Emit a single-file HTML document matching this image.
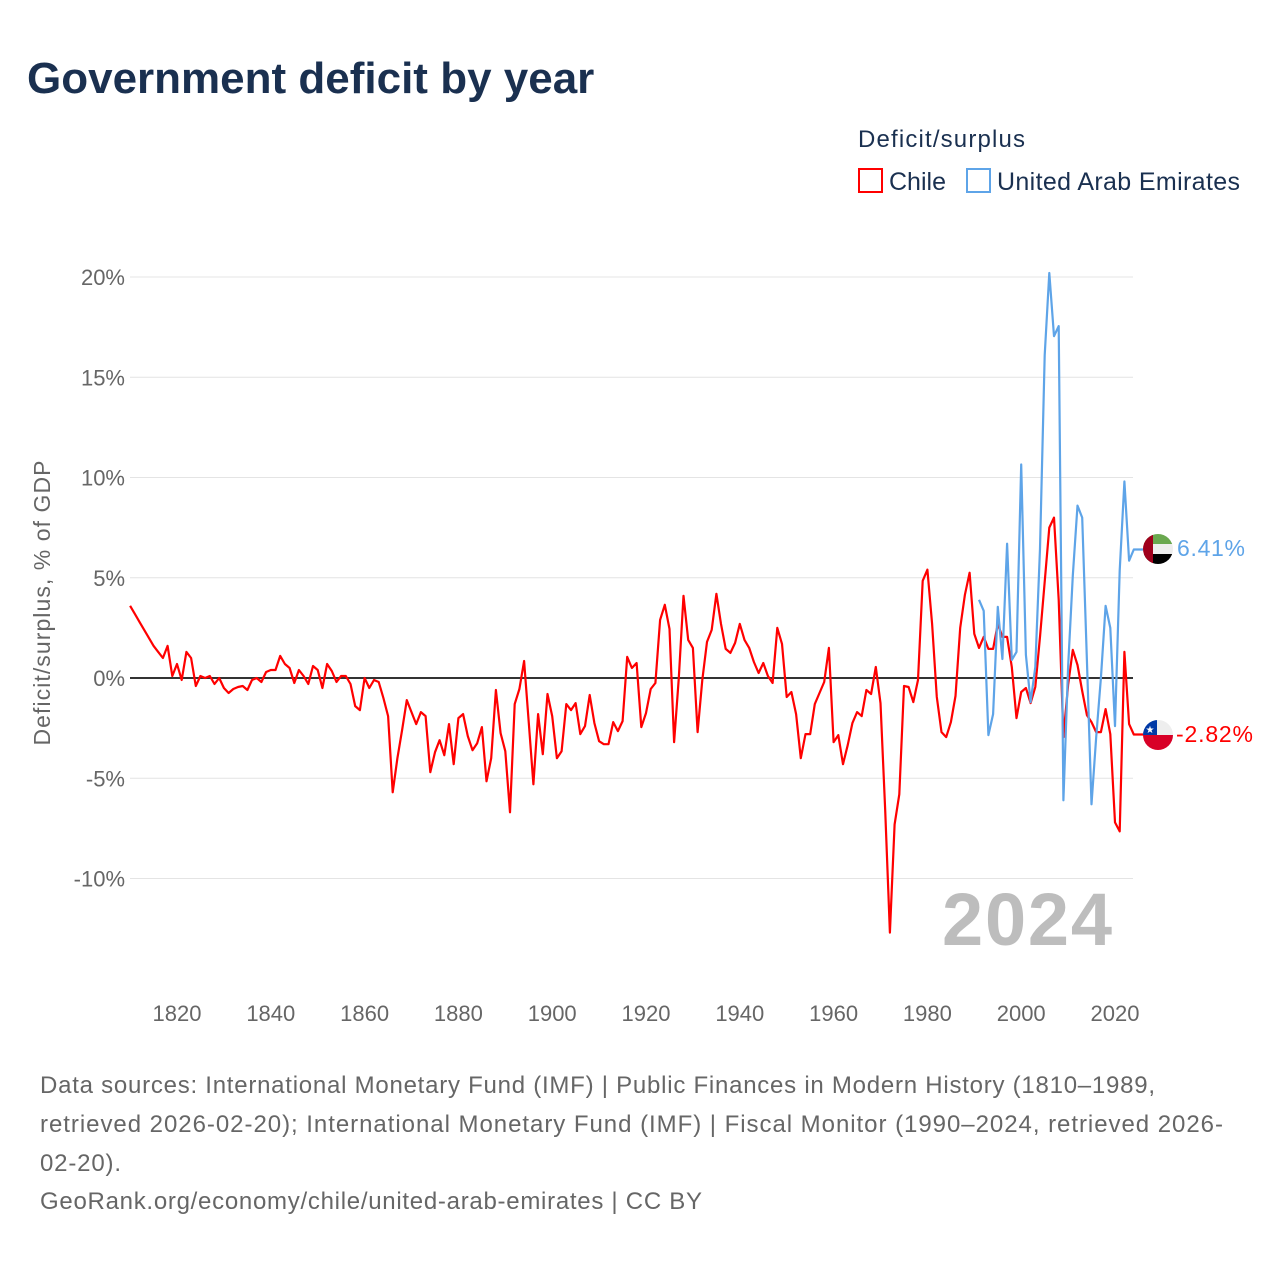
<!DOCTYPE html>
<html><head><meta charset="utf-8"><style>
body{margin:0;background:#fff;width:1280px;height:1280px;overflow:hidden;font-family:"Liberation Sans",sans-serif}
</style></head><body>
<svg id="chart" width="1280" height="1280" xmlns="http://www.w3.org/2000/svg">
<text x="27" y="93" font-size="44" font-weight="bold" fill="#1a3050">Government deficit by year</text>
<text x="858" y="147" font-size="24" fill="#1a3050" textLength="167">Deficit/surplus</text>
<g><rect x="859" y="169" width="23" height="23" fill="none" stroke="#ff0000" stroke-width="2"/><text x="889" y="190" font-size="25" fill="#1a3050">Chile</text></g>
<g><rect x="967" y="169" width="23" height="23" fill="none" stroke="#5ea4e8" stroke-width="2"/><text x="997" y="190" font-size="25" fill="#1a3050" textLength="243">United Arab Emirates</text></g>
<g id="grid"></g>
<g id="yticks"></g>
<g id="xticks"></g>
<text transform="translate(50,603) rotate(-90)" text-anchor="middle" font-size="23" fill="#666" textLength="285">Deficit/surplus, % of GDP</text>
<text x="1112" y="945" text-anchor="end" font-size="74" font-weight="bold" fill="#bdbdbd" textLength="170">2024</text>
<g id="series"></g>
<g>
<clipPath id="cu"><circle cx="1158" cy="549" r="15"/></clipPath>
<g clip-path="url(#cu)"><rect x="1143" y="534" width="30" height="10" fill="#6aa84f"/><rect x="1143" y="544" width="30" height="10" fill="#eee"/><rect x="1143" y="554" width="30" height="10" fill="#000"/><rect x="1143" y="534" width="10" height="30" fill="#a0001c"/></g></g>
<text x="1177" y="556" font-size="23" fill="#5ea4e8" textLength="68">6.41%</text>
<g>
<clipPath id="cc"><circle cx="1158" cy="735" r="15"/></clipPath>
<g clip-path="url(#cc)"><rect x="1143" y="720" width="30" height="15" fill="#eee"/><rect x="1143" y="735" width="30" height="15" fill="#d80027"/><rect x="1143" y="720" width="14" height="15" fill="#0039a6"/></g>
<text x="1150" y="733" font-size="10" fill="#fff" text-anchor="middle">★</text></g>
<text x="1176" y="742" font-size="23" fill="#ff0000" textLength="77">-2.82%</text>
<g font-size="24" fill="#666">
<text x="40" y="1093" textLength="1115">Data sources: International Monetary Fund (IMF) | Public Finances in Modern History (1810–1989,</text>
<text x="40" y="1132" textLength="1183">retrieved 2026-02-20); International Monetary Fund (IMF) | Fiscal Monitor (1990–2024, retrieved 2026-</text>
<text x="40" y="1171" textLength="81">02-20).</text>
<text x="40" y="1209" textLength="662">GeoRank.org/economy/chile/united-arab-emirates | CC BY</text>
</g>
</svg>
<script>
const yTicks=[20,15,10,5,0,-5,-10];
const xTicks=[1820,1840,1860,1880,1900,1920,1940,1960,1980,2000,2020];
const chileStart=1810;
const chileValues=[3.6,3.2,2.8,2.4,2.0,1.6,1.3,1.0,1.6,0.1,0.7,-0.1,1.3,1.0,-0.4,0.1,0,0.1,-0.3,0,-0.5,-0.75,-0.55,-0.45,-0.4,-0.6,-0.1,0,-0.2,0.3,0.4,0.4,1.1,0.7,0.5,-0.25,0.4,0.1,-0.3,0.6,0.4,-0.5,0.7,0.35,-0.2,0.1,0.1,-0.3,-1.4,-1.6,0,-0.5,-0.1,-0.2,-1.0,-1.9,-5.7,-4.0,-2.6,-1.1,-1.7,-2.3,-1.7,-1.9,-4.7,-3.7,-3.1,-3.85,-2.3,-4.3,-2.0,-1.8,-2.9,-3.6,-3.25,-2.45,-5.15,-4.0,-0.6,-2.75,-3.65,-6.7,-1.3,-0.55,0.85,-2.25,-5.3,-1.8,-3.8,-0.8,-1.9,-4.0,-3.65,-1.3,-1.6,-1.25,-2.8,-2.4,-0.85,-2.25,-3.15,-3.3,-3.3,-2.2,-2.65,-2.15,1.05,0.5,0.75,-2.45,-1.75,-0.55,-0.25,2.9,3.65,2.45,-3.2,0,4.1,1.9,1.5,-2.7,-0.1,1.8,2.4,4.2,2.7,1.45,1.25,1.75,2.7,1.9,1.5,0.8,0.25,0.75,0.1,-0.25,2.5,1.7,-0.95,-0.7,-1.8,-4.0,-2.8,-2.8,-1.3,-0.75,-0.2,1.5,-3.2,-2.85,-4.3,-3.35,-2.25,-1.7,-1.9,-0.6,-0.8,0.55,-1.25,-6.6,-12.7,-7.3,-5.8,-0.4,-0.45,-1.2,-0.1,4.85,5.4,2.7,-0.95,-2.7,-2.95,-2.2,-0.9,2.5,4.15,5.25,2.2,1.5,2.05,1.45,1.45,2.7,2.05,2.05,0.55,-2.0,-0.7,-0.5,-1.25,-0.45,2.05,4.8,7.5,8.0,3.9,-2.95,-0.35,1.4,0.65,-0.65,-1.85,-2.2,-2.7,-2.7,-1.55,-2.8,-7.2,-7.65,1.3,-2.3,-2.82];
const uaeStart=1991;
const uaeValues=[3.9,3.35,-2.85,-1.8,3.55,0.95,6.7,0.9,1.3,10.65,1.15,-1.2,0.55,6.45,16.1,20.2,17.05,17.55,-6.1,0.55,5.1,8.6,8.0,0.9,-6.3,-2.95,0,3.6,2.5,-2.4,5.35,9.8,5.85,6.41];
const NS="http://www.w3.org/2000/svg";
const X=y=>130.1+(y-1810)*4.69;
const Y=v=>678-v*20.05;
function mk(t,a,p){const e=document.createElementNS(NS,t);for(const k in a)e.setAttribute(k,a[k]);p.appendChild(e);return e;}
const grid=document.getElementById('grid'),yt=document.getElementById('yticks'),xt=document.getElementById('xticks'),ser=document.getElementById('series');
yTicks.forEach(v=>{
 const l=mk('line',{x1:130,x2:1133,y1:Y(v),y2:Y(v),stroke:v===0?'#333':'#e4e4e4','stroke-width':v===0?2:1},grid);
 
 
 const t=mk('text',{x:125,y:Y(v)+8,'text-anchor':'end','font-size':22,fill:'#666'},yt);
 t.textContent=v+'%';
 
 
});
xTicks.forEach(y=>{
 const t=mk('text',{x:X(y),y:1021,'text-anchor':'middle','font-size':22,fill:'#666'},xt);
 t.textContent=y;
 
 
});
function line(vals,start,color,name){
 let d=vals.map((v,i)=>(i?'L':'M')+X(start+i).toFixed(1)+' '+Y(v).toFixed(1)).join(' ');
 const last=vals[vals.length-1];
 d+=' L'+(X(start+vals.length-1)+4).toFixed(1)+' '+Y(last).toFixed(1)+' L1143 '+Y(last).toFixed(1);
 const p=mk('path',{d:d,fill:'none',stroke:color,'stroke-width':2.2,'stroke-linejoin':'round'},ser);
 
 
}
line(chileValues,chileStart,'#ff0000','chile-line');
line(uaeValues,uaeStart,'#5ea4e8','uae-line');
</script>
</body></html>
